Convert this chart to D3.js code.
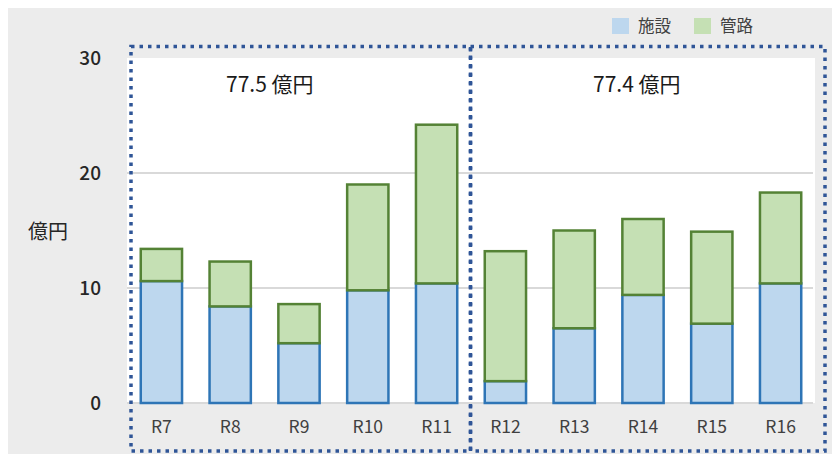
<!DOCTYPE html>
<html>
<head>
<meta charset="utf-8">
<script src="https://cdn.jsdelivr.net/npm/d3@7"></script>
<style>
  body { margin: 0; background: #fff; }
  text { font-family: "Noto Sans CJK JP", "Noto Sans", sans-serif; }
</style>
</head>
<body>
<svg width="832" height="454"></svg>
<script>
// data (億円)
var categories = ["R7", "R8", "R9", "R10", "R11", "R12", "R13", "R14", "R15", "R16"];
var facility = [10.6, 8.4, 5.2, 9.8, 10.4, 1.9, 6.5, 9.4, 6.9, 10.4];   // 施設
var pipeline = [2.8, 3.9, 3.4, 9.2, 13.8, 11.3, 8.5, 6.6, 8.0, 7.9];    // 管路
var yTicks = [0, 10, 20, 30];
var seriesNames = ["施設", "管路"];
var periodTotals = ["77.5 億円", "77.4 億円"];

var svg = d3.select("svg");

svg.append("rect")
    .attr("x", 8).attr("y", 8).attr("width", 824).attr("height", 446)
    .attr("fill", "#ececec");

var plot = { left: 127, right: 815, top: 58, bottom: 403 };

svg.append("rect")
    .attr("x", plot.left).attr("y", plot.top)
    .attr("width", plot.right - plot.left).attr("height", plot.bottom - plot.top)
    .attr("fill", "#fff");

var x = d3.scaleBand()
    .domain(categories)
    .range([plot.left, plot.right])
    .paddingInner(0.4)
    .paddingOuter(0.2);

var y = d3.scaleLinear()
    .domain([0, 30])
    .range([plot.bottom, plot.top]);

// gridlines
svg.append("g").selectAll("line")
    .data(yTicks.filter(d => d < 30))
    .enter().append("line")
      .attr("x1", plot.left).attr("x2", plot.right - 2)
      .attr("y1", d => y(d)).attr("y2", d => y(d))
      .attr("stroke", "#d9d9d9")
      .attr("stroke-width", 2);

// y axis labels
var yAxis = svg.append("g")
    .attr("transform", "translate(101,0)")
    .call(d3.axisLeft(y).tickValues(yTicks).tickSize(0).tickPadding(0));
yAxis.select(".domain").remove();
yAxis.selectAll("text")
    .attr("font-family", "'Noto Sans CJK JP', 'Noto Sans', sans-serif")
    .attr("font-size", 19)
    .attr("font-weight", 500)
    .attr("fill", "#262626");

svg.append("text")
    .attr("x", 28).attr("y", 239)
    .attr("font-size", 20)
    .attr("fill", "#262626")
    .text("億円");

// x axis labels
var xAxis = svg.append("g")
    .attr("transform", "translate(0," + plot.bottom + ")")
    .call(d3.axisBottom(x).tickSize(0).tickPadding(18));
xAxis.select(".domain").remove();
xAxis.selectAll("text")
    .attr("font-family", "'Noto Sans CJK JP', 'Noto Sans', sans-serif")
    .attr("font-size", 17.5)
    .attr("fill", "#404040");

// stacked bars
var rows = categories.map((c, i) => ({ cat: c, 施設: facility[i], 管路: pipeline[i] }));
var stacked = d3.stack().keys(seriesNames)(rows);
var fills = { "施設": "#bdd7ee", "管路": "#c5e0b4" };
var strokes = { "施設": "#2e75b6", "管路": "#548235" };

svg.append("g").selectAll("g")
    .data(stacked)
    .enter().append("g")
      .attr("fill", d => fills[d.key])
      .attr("stroke", d => strokes[d.key])
      .attr("stroke-width", 2.5)
    .selectAll("rect")
    .data(d => d)
    .enter().append("rect")
      .attr("x", d => x(d.data.cat))
      .attr("width", x.bandwidth())
      .attr("y", d => y(d[1]))
      .attr("height", d => y(d[0]) - y(d[1]));

// period totals
svg.append("g").selectAll("text")
    .data(periodTotals)
    .enter().append("text")
      .attr("x", (d, i) => i === 0 ? 226 : 593)
      .attr("y", 92)
      .attr("font-size", 21)
      .attr("fill", "#1a1a1a")
      .text(d => d);

// dotted boxes
var boxes = [[131, 470.5], [470.5, 825]];
svg.append("g").selectAll("rect")
    .data(boxes)
    .enter().append("rect")
      .attr("x", d => d[0]).attr("y", 46.5)
      .attr("width", d => d[1] - d[0]).attr("height", 404.5)
      .attr("fill", "none")
      .attr("stroke", "#2f5597")
      .attr("stroke-width", 3.5)
      .attr("stroke-dasharray", "3.5 5");

// legend
var legend = svg.append("g").selectAll("g")
    .data(seriesNames)
    .enter().append("g")
      .attr("transform", (d, i) => "translate(" + (612 + i * 82) + ",18)");
legend.append("rect")
    .attr("width", 17).attr("height", 16)
    .attr("fill", d => fills[d]);
legend.append("text")
    .attr("x", 26).attr("y", 14)
    .attr("font-size", 16.5)
    .attr("fill", "#404040")
    .text(d => d);
</script>
</body>
</html>
